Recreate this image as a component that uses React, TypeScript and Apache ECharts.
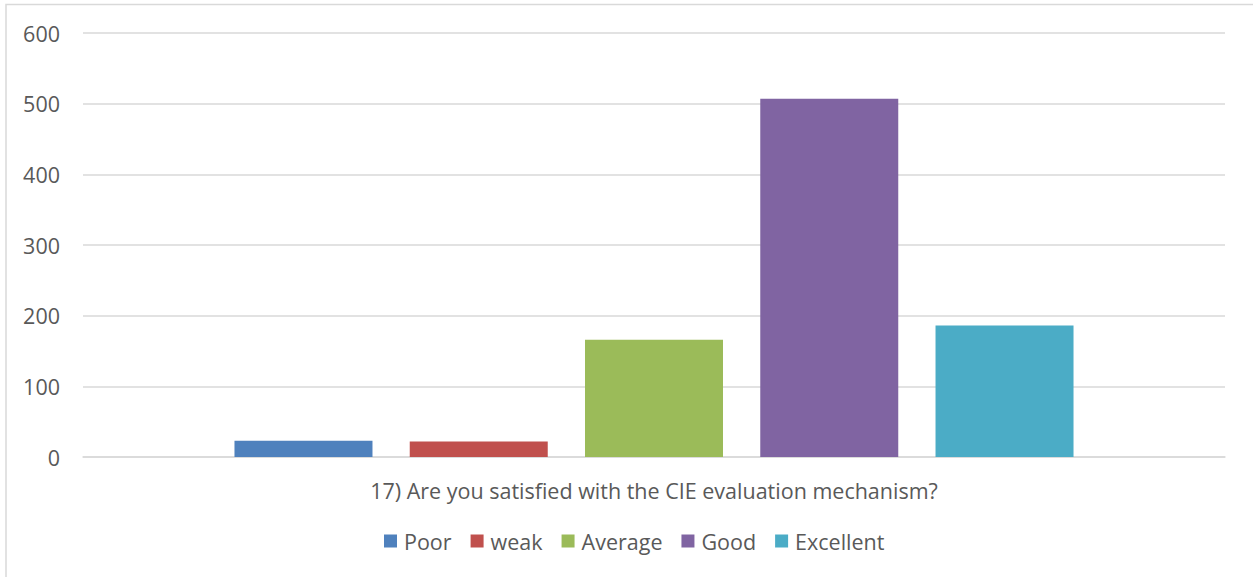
import React, { useEffect, useRef } from "react";
import * as echarts from "echarts";

const categories = ["17) Are you satisfied with the CIE evaluation mechanism?"];
const seriesNames = ["Poor", "weak", "Average", "Good", "Excellent"];
const seriesValues = [[23], [22], [166], [507], [186]];
const seriesColors = ["#4f81bd", "#c0504d", "#9bbb59", "#8064a2", "#4bacc6"];
const yTicks = [0, 100, 200, 300, 400, 500, 600];

const FONT = "'Open Sans', sans-serif";
const FS = 21.5;

export default function App() {
  const ref = useRef<HTMLDivElement>(null);
  useEffect(() => {
    document.body.style.margin = "0";
    const chart = echarts.init(ref.current!, null, { renderer: "svg" });
    chart.setOption({
      animation: false,
      backgroundColor: "#ffffff",
      graphic: [
        {
          type: "rect",
          shape: { x: 6, y: 4.5, width: 1300, height: 700 },
          style: { fill: "none", stroke: "#d9d9d9", lineWidth: 1.5 },
          silent: true,
          z: 100,
        },
      ],
      grid: { left: 83, right: 28, top: 33, bottom: 120, containLabel: false },
      legend: {
        top: 525,
        left: 379,
        itemWidth: 13,
        itemHeight: 13,
        itemGap: 19,
        icon: "rect",
        textStyle: { color: "#595959", fontSize: FS, fontFamily: FONT, padding: [0, 0, 0, 2] },
        data: seriesNames,
      },
      xAxis: {
        type: "category",
        data: categories,
        axisLine: { lineStyle: { color: "#d9d9d9", width: 1.5 } },
        axisTick: { show: false },
        axisLabel: { color: "#595959", fontSize: FS, fontFamily: FONT, margin: 22 },
      },
      yAxis: {
        type: "value",
        min: yTicks[0],
        max: yTicks[yTicks.length - 1],
        interval: 100,
        axisLine: { show: false },
        axisTick: { show: false },
        splitLine: { lineStyle: { color: "#d9d9d9", width: 1.5 } },
        axisLabel: { color: "#595959", fontSize: FS, fontFamily: FONT, margin: 23 },
      },
      series: seriesNames.map((name, i) => ({
        name,
        type: "bar",
        data: seriesValues[i],
        barWidth: 138,
        barGap: "27%",
        itemStyle: { color: seriesColors[i] },
      })),
    });
    return () => chart.dispose();
  }, []);
  return <div ref={ref} style={{ position: "absolute", left: 0, top: 0, width: 1253, height: 577 }} />;
}
